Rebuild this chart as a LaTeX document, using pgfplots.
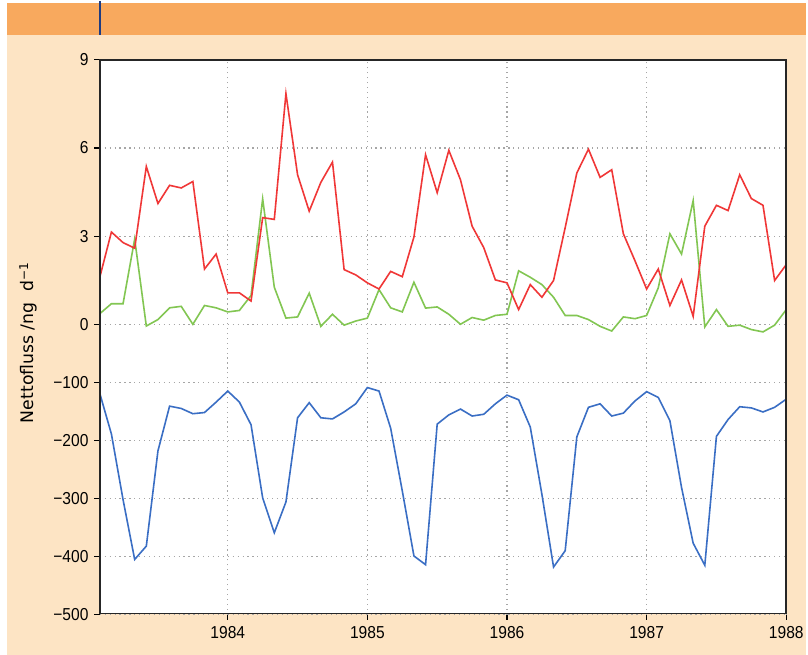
\documentclass[border=0pt]{standalone}
\usepackage{pgfplots}
\pgfplotsset{compat=1.18}
\usepackage{fontspec}
\setmainfont{Liberation Sans}[FakeStretch=0.9]
\newfontfamily\labelfont{DejaVu Sans}
\definecolor{bandorange}{RGB}{248,169,94}
\definecolor{peach}{RGB}{253,228,196}
\definecolor{navy}{RGB}{30,60,130}
\definecolor{cred}{RGB}{240,55,55}
\definecolor{cgreen}{RGB}{130,198,82}
\definecolor{cblue}{RGB}{58,110,196}

\pgfplotstableread{
m red green blue
1 1.60 0.36 -119
2 3.14 0.70 -189
3 2.78 0.70 -302
4 2.59 2.90 -405
5 5.37 -0.06 -382
6 4.11 0.16 -218
7 4.73 0.56 -141
8 4.64 0.61 -145
9 4.86 0.00 -154
10 1.88 0.64 -152
11 2.39 0.56 -134
12 1.07 0.42 -115
13 1.07 0.47 -134
14 0.79 0.98 -173
15 3.63 4.27 -299
16 3.57 1.26 -359
17 7.85 0.21 -306
18 5.09 0.25 -161
19 3.85 1.06 -135
20 4.83 -0.07 -161
21 5.52 0.34 -163
22 1.86 -0.03 -151
23 1.68 0.11 -137
24 1.41 0.21 -109
25 1.20 1.18 -115
26 1.80 0.56 -179
27 1.62 0.42 -287
28 2.97 1.43 -399
29 5.77 0.55 -414
30 4.48 0.59 -172
31 5.92 0.34 -156
32 4.92 0.00 -146
33 3.34 0.23 -158
34 2.61 0.14 -155
35 1.51 0.30 -137
36 1.41 0.34 -122
37 0.50 1.82 -130
38 1.35 1.60 -177
39 0.92 1.35 -293
40 1.49 0.92 -418
41 3.29 0.30 -390
42 5.15 0.30 -194
43 5.96 0.16 -143
44 5.00 -0.07 -137
45 5.26 -0.23 -158
46 3.08 0.25 -153
47 2.16 0.19 -132
48 1.20 0.30 -116
49 1.88 1.24 -126
50 0.64 3.08 -166
51 1.51 2.39 -281
52 0.27 4.21 -377
53 3.34 -0.09 -415
54 4.05 0.50 -193
55 3.87 -0.07 -164
56 5.09 -0.03 -142
57 4.28 -0.18 -144
58 4.05 -0.26 -151
59 1.49 -0.03 -143
60 2.03 0.50 -129
}\datatable

\begin{document}
\begin{tikzpicture}[x=0.75pt,y=0.75pt]
% background
\fill[white] (0,0) rectangle (808,655);
\fill[peach] (7,0) rectangle (808,621);
\fill[bandorange] (7,621) rectangle (808,653);
\draw[navy, line width=1.5pt] (100,621) -- (100,655);
\fill[white] (100,41) rectangle (788,596);

\pgfplotsset{
  commonstyle/.style={
    scale only axis,
    width=516pt,
    xmin=1, xmax=60,
    axis line style={draw=none},
    tick align=outside,
    major tick length=4pt,
    tick style={black, line width=0.8pt},
    ytick pos=left,
    grid=major,
    major grid style={gray!70, line width=0.8pt, dash pattern=on 0.9pt off 2.8pt},
    /pgf/number format/assume math mode=true,
    tick label style={font=\fontsize{13}{15}\selectfont},
    yticklabel style={xshift=-1pt},
    xtick={12,24,36,48,60},
  }
}

% lower panel
\begin{axis}[commonstyle,
  at={(75pt,248.25pt)}, anchor=north west,
  height=218.25pt,
  ymin=-500, ymax=0,
  ytick={-500,-400,-300,-200,-100},
  yticklabels={−500,−400,−300,−200,−100},
  xtick pos=bottom,
  xticklabels={1984,1985,1986,1987,1988},
  xticklabel style={yshift=-1pt},
]
\addplot[cblue, line width=1.2pt] table[x=m, y=blue] {\datatable};
\end{axis}

% upper panel
\begin{axis}[commonstyle,
  at={(75pt,248.25pt)}, anchor=south west,
  height=198.75pt,
  ymin=0, ymax=9,
  ytick={0,3,6,9},
  yticklabels={0,3,6,9},
  xticklabels={},
  xtick style={draw=none},
  clip=false,
]
\addplot[cgreen, line width=1.2pt] table[x=m, y=green] {\datatable};
\addplot[cred, line width=1.2pt] table[x=m, y=red] {\datatable};
\end{axis}

% frame
\draw[black!85, line width=1.3pt] (100,41) rectangle (788,596);

% y label
\node[rotate=90, font=\labelfont\fontsize{13}{15}\selectfont] at (28.5,312.5)
  {Nettofluss /ng\hspace{0.6em}d\textsuperscript{−1}};
\end{tikzpicture}
\end{document}
